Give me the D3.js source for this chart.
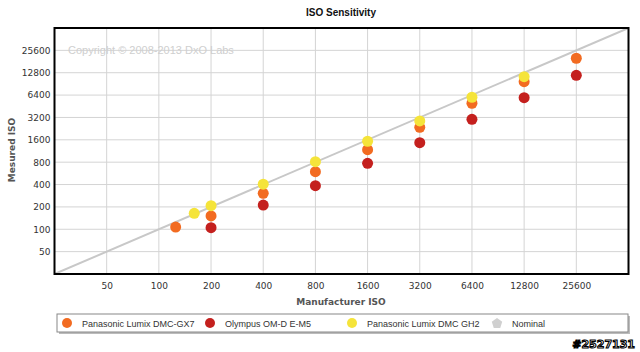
<!DOCTYPE html>
<html><head><meta charset="utf-8">
<script src="https://cdn.jsdelivr.net/npm/d3@7"></script>
<style>body{margin:0;background:#fff}svg{display:block}</style>
</head><body>
<script>
const ticks = [50,100,200,400,800,1600,3200,6400,12800,25600];
const seriesNames = ["Panasonic Lumix DMC-GX7","Olympus OM-D E-M5","Panasonic Lumix DMC GH2","Nominal"];
const gx7 = [[125,107],[200,151],[400,305],[800,596],[1600,1179],[3200,2360],[6400,4970],[12800,9700],[25600,20050]];
const em5 = [[200,105],[400,212],[800,386],[1600,773],[3200,1464],[6400,3025],[12800,5910],[25600,11830]];
const gh2 = [[160,164],[200,208],[400,405],[800,812],[1600,1530],[3200,2870],[6400,5985],[12800,11330]];
const nominal = [[25,25],[51200,51200]];
const colors = ["#F26B21","#C4201E","#F5E43A","#cccccc"];

const W=640,H=352;
const svg=d3.select("body").append("svg").attr("width",W).attr("height",H);
const L=54.5,R=628.5,T=28,B=274;
const x=d3.scaleLog().base(2).domain([25,51200]).range([L,R]);
const y=d3.scaleLog().base(2).domain([25,51200]).range([B,T]);

svg.append("text").attr("x",341).attr("y",16).attr("text-anchor","middle")
  .attr("font-family","Liberation Sans, Arial").attr("font-weight","bold").attr("font-size",10).attr("fill","#111").text("ISO Sensitivity");

// grid
const g=svg.append("g");
g.selectAll(".vg").data(ticks).join("line").attr("x1",d=>x(d)).attr("x2",d=>x(d)).attr("y1",T).attr("y2",B).attr("stroke","#d4d4d4").attr("stroke-width",1);
g.selectAll(".hg").data(ticks).join("line").attr("y1",d=>y(d)).attr("y2",d=>y(d)).attr("x1",L).attr("x2",R).attr("stroke","#d4d4d4").attr("stroke-width",1);

// copyright
svg.append("text").attr("x",68).attr("y",54).attr("font-family","Liberation Sans, Arial").attr("font-size",11).attr("fill","#cfcfcf").text("Copyright © 2008-2013 DxO Labs");

// axes
const xa=svg.append("g").attr("transform",`translate(0,${B})`).call(d3.axisBottom(x).tickValues(ticks).tickFormat(d3.format("d")).tickSize(0).tickPadding(9));
const ya=svg.append("g").attr("transform",`translate(${L},0)`).call(d3.axisLeft(y).tickValues(ticks).tickFormat(d3.format("d")).tickSize(0).tickPadding(4));
[xa,ya].forEach(a=>{a.select(".domain").remove();a.selectAll("text").attr("font-family","DejaVu Sans, Verdana").attr("font-size",9).attr("fill","#333");});

// nominal line
svg.append("clipPath").attr("id","clp").append("rect").attr("x",L).attr("y",T).attr("width",R-L).attr("height",B-T);
svg.append("path").datum(nominal).attr("clip-path","url(#clp)").attr("d",d3.line().x(d=>x(d[0])).y(d=>y(d[1]))).attr("stroke","#c8c8c8").attr("stroke-width",2).attr("fill","none");

// points
[gx7,em5,gh2].forEach((s,i)=>{
  svg.append("g").selectAll("circle").data(s).join("circle").attr("cx",d=>x(d[0])).attr("cy",d=>y(d[1])).attr("r",5.5).attr("fill",colors[i]);
});

// border
svg.append("rect").attr("x",L).attr("y",T).attr("width",R-L).attr("height",B-T).attr("fill","none").attr("stroke","#000").attr("stroke-width",2);

// axis titles
svg.append("text").attr("x",341).attr("y",305).attr("text-anchor","middle").attr("font-family","DejaVu Sans, Verdana").attr("font-weight","bold").attr("font-size",9).attr("fill","#555").text("Manufacturer ISO");
svg.append("text").attr("transform","translate(15,150) rotate(-90)").attr("text-anchor","middle").attr("font-family","DejaVu Sans, Verdana").attr("font-weight","bold").attr("font-size",9).attr("fill","#555").text("Mesured ISO");

// legend
const lg=svg.append("g");
lg.append("rect").attr("x",59).attr("y",316).attr("width",571).attr("height",18).attr("fill","#bbb");
lg.append("rect").attr("x",57).attr("y",314).attr("width",571).attr("height",18).attr("fill","#fff").attr("stroke","#888").attr("stroke-width",1);
const lx=[67,210,352,497];
seriesNames.forEach((n,i)=>{
  if(i<3) lg.append("circle").attr("cx",lx[i]).attr("cy",323).attr("r",5).attr("fill",colors[i]);
  else lg.append("path").attr("transform",`translate(${lx[i]},323)`).attr("d",d3.symbol().type(d3.symbolCircle).size(0)()).attr("fill",colors[i]);
  lg.append("text").attr("x",lx[i]+15).attr("y",326.5).attr("font-family","Liberation Sans, Arial").attr("font-size",9).attr("fill","#333").text(n);
});
// pentagon for nominal
const pent=d3.range(5).map(k=>{const a=-Math.PI/2+k*2*Math.PI/5;return [lx[3]+5.5*Math.cos(a),323.5+5.5*Math.sin(a)];});
lg.append("polygon").attr("points",pent.map(p=>p.join(",")).join(" ")).attr("fill","#d0d0d0");

svg.append("text").attr("x",635).attr("y",348).attr("text-anchor","end").attr("font-family","DejaVu Sans, Verdana").attr("font-weight","bold").attr("font-size",11).attr("fill","#fff").attr("stroke","#000").attr("stroke-width",1.1).attr("paint-order","fill").text("#2527131");
</script>
</body></html>
